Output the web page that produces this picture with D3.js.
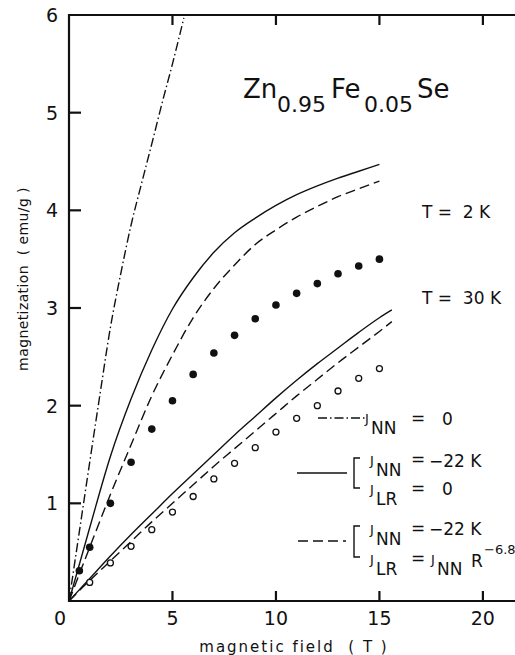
<!DOCTYPE html>
<html>
<head>
<meta charset="utf-8">
<script src="https://cdn.jsdelivr.net/npm/d3@7"></script>
<style>
  body { margin: 0; background: #fff; }
  svg { display: block; }
  text { font-family: "DejaVu Sans", "Liberation Sans", sans-serif; fill: #111; white-space: pre; }
</style>
</head>
<body>
<svg id="chart" width="515" height="655"></svg>
<script>
// values (field in T, magnetization in emu/g)
const xTicks = [5, 10, 15, 20];
const yTicks = [1, 2, 3, 4, 5, 6];

// filled dots, T = 2 K
const field2K = [0.5, 1, 2, 3, 4, 5, 6, 7, 8, 9, 10, 11, 12, 13, 14, 15];
const meas2K = [0.31, 0.55, 1.0, 1.42, 1.76, 2.05, 2.32, 2.54, 2.72, 2.89, 3.03, 3.15, 3.25, 3.35, 3.43, 3.50];

// open dots, T = 30 K
const field30K = [1, 2, 3, 4, 5, 6, 7, 8, 9, 10, 11, 12, 13, 14, 15];
const meas30K = [0.19, 0.39, 0.56, 0.73, 0.91, 1.07, 1.25, 1.41, 1.57, 1.73, 1.87, 2.0, 2.15, 2.28, 2.38];

// J_NN = 0 (dash-dot)
const fieldFree = [0, 0.5, 1, 1.5, 2, 2.5, 3, 3.5, 4, 4.5, 5, 5.55];
const calcFree = [0, 0.71, 1.42, 2.12, 2.8, 3.35, 3.85, 4.27, 4.68, 5.1, 5.5, 5.97];

// J_NN = -22 K, J_LR = 0 (solid) and J_LR = J_NN R^-6.8 (dashed), 2 K
const fieldCalc = [0, 1, 2, 3, 4, 5, 6, 7, 8, 9, 10, 11, 12, 13, 14, 15];
const calcNN2K = [0, 0.75, 1.48, 2.07, 2.57, 2.99, 3.31, 3.57, 3.77, 3.92, 4.05, 4.16, 4.25, 4.33, 4.40, 4.47];
const calcLR2K = [0, 0.55, 1.09, 1.6, 2.1, 2.52, 2.9, 3.2, 3.44, 3.65, 3.8, 3.93, 4.04, 4.14, 4.22, 4.30];

// same, 30 K
const field30Calc = [0, 1, 2, 3, 4, 5, 6, 7, 8, 9, 10, 11, 12, 13, 14, 15, 15.6];
const calcNN30K = [0, 0.23, 0.46, 0.68, 0.89, 1.1, 1.3, 1.5, 1.7, 1.89, 2.08, 2.26, 2.43, 2.59, 2.75, 2.9, 2.98];
const calcLR30K = [0, 0.21, 0.41, 0.61, 0.81, 1.0, 1.19, 1.38, 1.56, 1.74, 1.92, 2.1, 2.27, 2.44, 2.6, 2.76, 2.86];

const svg = d3.select('#chart');

const x = d3.scaleLinear().domain([0, 21.6]).range([69, 516]);
const y = d3.scaleLinear().domain([0, 6]).range([601, 15]);

// frame
svg.append('path')
    .attr('d', `M${x(21.6)},${y(6)}H${x(0)}V${y(0)}H${x(21.6)}`)
    .attr('fill', 'none')
    .attr('stroke', '#111')
    .attr('stroke-width', 2.2);

// inward ticks
const ticks = svg.append('g')
    .attr('stroke', '#111')
    .attr('stroke-width', 2.2);

ticks.selectAll('.tb')
    .data(xTicks)
    .join('line')
    .attr('class', 'tb')
    .attr('x1', d => x(d)).attr('x2', d => x(d))
    .attr('y1', y(0)).attr('y2', y(0) - 10);

ticks.selectAll('.tt')
    .data(xTicks)
    .join('line')
    .attr('class', 'tt')
    .attr('x1', d => x(d)).attr('x2', d => x(d))
    .attr('y1', y(6)).attr('y2', y(6) + 10);

ticks.selectAll('.tl')
    .data(yTicks.slice(0, 5))
    .join('line')
    .attr('class', 'tl')
    .attr('x1', x(0)).attr('x2', x(0) + 12)
    .attr('y1', d => y(d)).attr('y2', d => y(d));

// tick labels
svg.selectAll('.xlab')
    .data(xTicks)
    .join('text')
    .attr('class', 'xlab')
    .attr('x', d => x(d))
    .attr('y', 625)
    .attr('text-anchor', 'middle')
    .style('font-size', '19px')
    .text(d => d);

svg.selectAll('.ylab')
    .data(yTicks)
    .join('text')
    .attr('class', 'ylab')
    .attr('x', 58)
    .attr('y', d => y(d) + 7)
    .attr('text-anchor', 'end')
    .style('font-size', '19px')
    .text(d => d);

svg.append('text')
    .attr('x', 60).attr('y', 625)
    .attr('text-anchor', 'middle')
    .style('font-size', '19px')
    .text('0');

// axis titles
svg.append('text')
    .attr('x', 294).attr('y', 652)
    .attr('text-anchor', 'middle')
    .style('font-size', '15px')
    .style('letter-spacing', '2px')
    .text('magnetic field  ( T )');

svg.append('text')
    .attr('transform', 'translate(28,279) rotate(-90)')
    .attr('text-anchor', 'middle')
    .style('font-size', '14px')
    .style('letter-spacing', '0.4px')
    .text('magnetization  ( emu/g )');

// curves
svg.append('clipPath').attr('id', 'plot-clip')
    .append('rect')
    .attr('x', x(0)).attr('y', y(6))
    .attr('width', x(21.6) - x(0)).attr('height', y(0) - y(6));

const line = d3.line()
    .x(d => x(d[0]))
    .y(d => y(d[1]))
    .curve(d3.curveMonotoneX);

const curves = [
    { xs: fieldFree, ys: calcFree, dash: '9,3,1.5,3' },
    { xs: fieldCalc, ys: calcNN2K, dash: null },
    { xs: fieldCalc, ys: calcLR2K, dash: '10,5' },
    { xs: field30Calc, ys: calcNN30K, dash: null },
    { xs: field30Calc, ys: calcLR30K, dash: '10,5' }
];

svg.append('g')
    .attr('clip-path', 'url(#plot-clip)')
    .selectAll('path')
    .data(curves)
    .join('path')
    .attr('d', d => line(d3.zip(d.xs, d.ys)))
    .attr('fill', 'none')
    .attr('stroke', '#111')
    .attr('stroke-width', 1.4)
    .attr('stroke-dasharray', d => d.dash);

// measured points
svg.selectAll('.dot2')
    .data(d3.zip(field2K, meas2K))
    .join('circle')
    .attr('class', 'dot2')
    .attr('cx', d => x(d[0]))
    .attr('cy', d => y(d[1]))
    .attr('r', 3.8)
    .attr('fill', '#111');

svg.selectAll('.dot30')
    .data(d3.zip(field30K, meas30K))
    .join('circle')
    .attr('class', 'dot30')
    .attr('cx', d => x(d[0]))
    .attr('cy', d => y(d[1]))
    .attr('r', 3)
    .attr('fill', '#fff')
    .attr('stroke', '#111')
    .attr('stroke-width', 1.3);

// title
const title = [
    { t: 'Zn', x: 243, y: 98, s: 26 },
    { t: '0.95', x: 277, y: 112, s: 22 },
    { t: 'Fe', x: 331, y: 98, s: 26 },
    { t: '0.05', x: 364, y: 112, s: 22 },
    { t: 'Se', x: 417, y: 98, s: 26 }
];
svg.selectAll('.title')
    .data(title)
    .join('text')
    .attr('class', 'title')
    .attr('x', d => d.x).attr('y', d => d.y)
    .style('font-size', d => d.s + 'px')
    .text(d => d.t);

svg.append('text').attr('x', 422).attr('y', 218).style('font-size', '17px').text('T =  2 K');
svg.append('text').attr('x', 422).attr('y', 304).style('font-size', '17px').text('T =  30 K');

// legend
function jLabel(px, py, sub) {
    svg.append('text').attr('x', px).attr('y', py).style('font-size', '13px').text('J');
    svg.append('text').attr('x', px + 6).attr('y', py + 11).style('font-size', '17px').text(sub);
}
function plain(px, py, t, s) {
    svg.append('text').attr('x', px).attr('y', py).style('font-size', (s || 17) + 'px').text(t);
}
function sample(x1, x2, py, dash) {
    svg.append('line')
        .attr('x1', x1).attr('x2', x2).attr('y1', py).attr('y2', py)
        .attr('stroke', '#111').attr('stroke-width', 1.4)
        .attr('stroke-dasharray', dash);
}
function bracket(top, bottom) {
    svg.append('path')
        .attr('d', `M360,${top}H354V${bottom}H360`)
        .attr('fill', 'none').attr('stroke', '#111').attr('stroke-width', 1.4);
}

sample(318, 365, 418, '9,3,1.5,3');
jLabel(365, 423, 'NN');
plain(411, 424, '=');
plain(442, 425, '0');

sample(297, 347, 473, null);
bracket(458, 488);
jLabel(370, 465, 'NN');
plain(411, 465, '=');
plain(429, 467, '−22 K');
jLabel(370, 494, 'LR');
plain(411, 494, '=');
plain(442, 495, '0');

sample(298, 346, 541, '10,5');
bracket(526, 557);
jLabel(370, 534, 'NN');
plain(411, 534, '=');
plain(429, 535, '−22 K');
jLabel(370, 564, 'LR');
plain(411, 564, '=');
jLabel(431, 564, 'NN');
plain(471, 567, 'R');
plain(484, 554, '−6.8', 13);
</script>
</body>
</html>
